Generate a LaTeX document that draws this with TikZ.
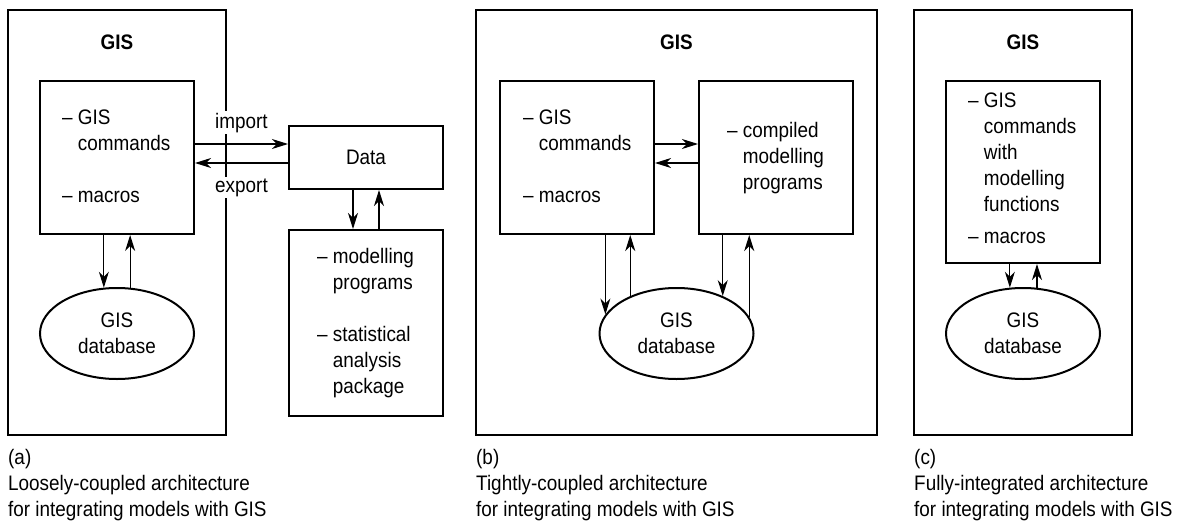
\documentclass[tikz,border=0pt]{standalone}
\usepackage{fontspec}
\setmainfont{Liberation Sans}[FakeStretch=0.9]
\usetikzlibrary{arrows.meta,shapes.geometric}

\begin{document}
\begin{tikzpicture}[x=1pt,y=-1pt,
    every node/.style={font=\fontsize{21}{26}\selectfont, inner sep=0pt},
    frame/.style={draw, line width=2pt, minimum height=425pt},
    box/.style={draw, line width=2pt, minimum width=154pt},
    db/.style={draw, ellipse, line width=2pt, minimum width=154pt, minimum height=91pt, align=center},
    items/.style={anchor=north west, align=left},
    title/.style={font=\fontsize{21}{26}\selectfont\bfseries},
    caption/.style={anchor=north west, align=left},
    lbl/.style={fill=white, inner sep=2pt},
    arr/.style={line width=1.1pt, -{Stealth[length=16pt,width=10pt,inset=5pt]}}
  ]

    \def\hang{\hphantom{–\ }}

    \useasboundingbox (0,0) rectangle (1186,525);

    % outer frames
    \node[frame, minimum width=218pt] (gisA) at (117,222.5) {};
    \node[frame, minimum width=401pt] (gisB) at (676.5,222.5) {};
    \node[frame, minimum width=218pt] (gisC) at (1023,222.5) {};

    \node[title] (titleA) at (117,42) {GIS};
    \node[title] (titleB) at (676.5,42) {GIS};
    \node[title] (titleC) at (1023,42) {GIS};

    % (a) loosely coupled
    \node[box, minimum height=153pt] (cmdA) at (117,157.5) {};
    \node[items] (txtA) at (62,110) {– GIS\\\hang commands\\[26pt]– macros};
    \node[db] (dbA) at (117,333.5) {GIS\\database};
    \node[box, minimum height=63pt] (data) at (366,157.5) {Data};
    \node[box, minimum height=186pt] (modA) at (366,323) {};
    \node[items] (txtM) at (317,248) {– modelling\\\hang programs\\[26pt]– statistical\\\hang analysis\\\hang package};

    \draw[arr] ([yshift=13.5pt]cmdA.east) -- ([yshift=13.5pt]cmdA.east -| data.west)
        node[lbl, midway, above=9pt] (imp) {import};
    \draw[arr] ([yshift=-5.5pt]data.west) -- ([yshift=-5.5pt]data.west -| cmdA.east)
        node[lbl, midway, below=13pt] (exp) {export};
    \draw[arr] (cmdA.south -| dbA.106) -- (dbA.106);
    \draw[arr] (dbA.74) -- (dbA.74 |- cmdA.south);
    \draw[arr] ([xshift=-13pt]data.south) -- ([xshift=-13pt]data.south |- modA.north);
    \draw[arr] ([xshift=13pt]modA.north) -- ([xshift=13pt]modA.north |- data.south);

    % (b) tightly coupled
    \node[box, minimum height=153pt] (cmdB) at (577,157.5) {};
    \node[items] (txtB) at (523,110) {– GIS\\\hang commands\\[26pt]– macros};
    \node[box, minimum height=153pt] (progB) at (776,157.5) {};
    \node[items] (txtP) at (727,122) {– compiled\\\hang modelling\\\hang programs};
    \node[db] (dbB) at (676.5,333.5) {GIS\\database};

    \draw[arr] ([yshift=13.5pt]cmdB.east) -- ([yshift=13.5pt]cmdB.east -| progB.west);
    \draw[arr] ([yshift=-5.5pt]progB.west) -- ([yshift=-5.5pt]progB.west -| cmdB.east);
    \draw[arr] (cmdB.south -| dbB.165) -- (dbB.165);
    \draw[arr] (dbB.141) -- (dbB.141 |- cmdB.south);
    \draw[arr] (progB.south -| dbB.39) -- (dbB.39);
    \draw[arr] (dbB.13) -- (dbB.13 |- progB.south);

    % (c) fully integrated
    \node[box, minimum height=182pt] (cmdC) at (1022.5,172) {};
    \node[items] (txtC) at (968,93) {– GIS\\\hang commands\\\hang with\\\hang modelling\\\hang functions\\[6pt]– macros};
    \node[db] (dbC) at (1023,333.5) {GIS\\database};

    \draw[arr] (cmdC.south -| dbC.106) -- (dbC.106);
    \draw[arr] (dbC.73) -- (dbC.73 |- cmdC.south);

    % captions
    \node[caption] (capA) at (8,449) {(a)\\Loosely-coupled architecture\\for integrating models with GIS};
    \node[caption] (capB) at (476,449) {(b)\\Tightly-coupled architecture\\for integrating models with GIS};
    \node[caption] (capC) at (914,449) {(c)\\Fully-integrated architecture\\for integrating models with GIS};

\end{tikzpicture}
\end{document}
